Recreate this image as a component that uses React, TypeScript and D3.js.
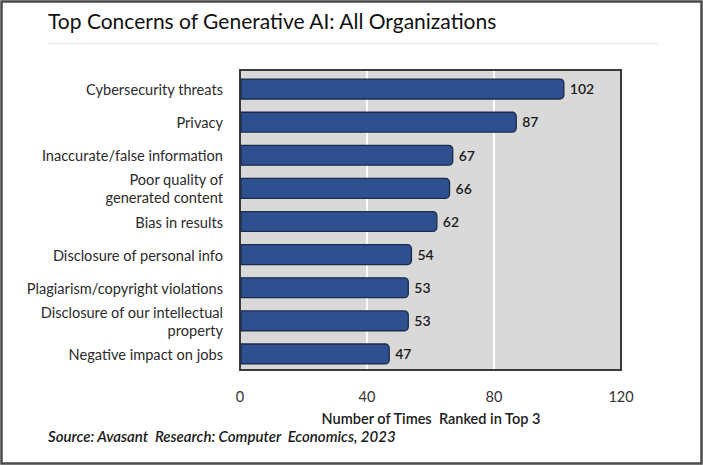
import React, { useEffect, useRef } from 'react';
import * as d3 from 'd3';

const categories: string[][] = [
  ['Cybersecurity threats'],
  ['Privacy'],
  ['Inaccurate/false information'],
  ['Poor quality of', 'generated content'],
  ['Bias in results'],
  ['Disclosure of personal info'],
  ['Plagiarism/copyright violations'],
  ['Disclosure of our intellectual', 'property'],
  ['Negative impact on jobs'],
];
const values = [102, 87, 67, 66, 62, 54, 53, 53, 47];
const xTicks = [0, 40, 80, 120];

const W = 703;
const H = 465;
const FONT = 'Lato, "Open Sans", sans-serif';

const App: React.FC = () => {
  const svgRef = useRef<SVGSVGElement>(null);

  useEffect(() => {
    if (!svgRef.current) return;
    const svg = d3.select(svgRef.current);
    svg.selectAll('*').remove();

    const plot = { left: 240, right: 621, top: 70, bottom: 370 };

    const x = d3.scaleLinear().domain([0, 120]).range([plot.left, plot.right]);
    const y = d3.scaleBand<number>()
      .domain(d3.range(values.length))
      .range([plot.top + 2.5, plot.bottom + 0.5])
      .paddingInner(0.4)
      .paddingOuter(0.2);

    // frame round the picture
    svg.append('rect')
      .attr('x', 1.5).attr('y', 1.5)
      .attr('width', W - 3).attr('height', H - 3)
      .attr('fill', '#fff')
      .attr('stroke', '#4a4a4a')
      .attr('stroke-width', 2.5);

    svg.append('text')
      .attr('x', 48).attr('y', 29)
      .attr('font-family', FONT)
      .attr('font-size', 21)
      .attr('fill', '#111')
      .text('Top Concerns of Generative AI: All Organizations');

    svg.append('line')
      .attr('x1', 48).attr('x2', 658)
      .attr('y1', 43.5).attr('y2', 43.5)
      .attr('stroke', '#ececec')
      .attr('stroke-width', 1.5);

    // plot background
    svg.append('rect')
      .attr('x', plot.left).attr('y', plot.top)
      .attr('width', plot.right - plot.left)
      .attr('height', plot.bottom - plot.top)
      .attr('fill', '#d9d9d9');

    svg.selectAll('line.grid')
      .data(xTicks.slice(1, -1))
      .enter()
      .append('line')
      .attr('class', 'grid')
      .attr('x1', d => x(d)).attr('x2', d => x(d))
      .attr('y1', plot.top).attr('y2', plot.bottom)
      .attr('stroke', '#fff')
      .attr('stroke-width', 2);

    svg.append('rect')
      .attr('x', plot.left).attr('y', plot.top)
      .attr('width', plot.right - plot.left)
      .attr('height', plot.bottom - plot.top)
      .attr('fill', 'none')
      .attr('stroke', '#3a3a3a')
      .attr('stroke-width', 2);

    // bars: flat at the axis, rounded at the end
    const r = 4;
    svg.selectAll('path.bar')
      .data(values)
      .enter()
      .append('path')
      .attr('class', 'bar')
      .attr('d', (d, i) => {
        const x0 = x(0) + 1;
        const x1 = x(d);
        const y0 = y(i)!;
        const h = y.bandwidth();
        const p = d3.path();
        p.moveTo(x0, y0);
        p.lineTo(x1 - r, y0);
        p.arcTo(x1, y0, x1, y0 + r, r);
        p.lineTo(x1, y0 + h - r);
        p.arcTo(x1, y0 + h, x1 - r, y0 + h, r);
        p.lineTo(x0, y0 + h);
        p.closePath();
        return p.toString();
      })
      .attr('fill', '#2e5090')
      .attr('stroke', '#1c2b48')
      .attr('stroke-width', 1.3);

    svg.selectAll('text.value')
      .data(values)
      .enter()
      .append('text')
      .attr('class', 'value')
      .attr('x', d => x(d) + 6)
      .attr('y', (d, i) => y(i)! + y.bandwidth() / 2)
      .attr('dy', '0.38em')
      .attr('font-family', FONT)
      .attr('font-size', 14)
      .attr('font-weight', 600)
      .attr('fill', '#1a1a1a')
      .text(d => d);

    // category labels, some on two lines
    const labels = svg.selectAll('text.cat')
      .data(categories)
      .enter()
      .append('text')
      .attr('class', 'cat')
      .attr('text-anchor', 'end')
      .attr('font-family', FONT)
      .attr('font-size', 14.6)
      .attr('fill', '#2b2b2b');
    labels.each(function (lines, i) {
      const cy = y(i)! + y.bandwidth() / 2 + 1;
      const t = d3.select(this);
      lines.forEach((line, k) => {
        t.append('tspan')
          .attr('x', 223)
          .attr('y', cy + (k - (lines.length - 1) / 2) * 18)
          .attr('dy', '0.35em')
          .text(line);
      });
    });

    svg.selectAll('text.tick')
      .data(xTicks)
      .enter()
      .append('text')
      .attr('class', 'tick')
      .attr('x', d => x(d))
      .attr('y', 397)
      .attr('dy', '0.35em')
      .attr('text-anchor', 'middle')
      .attr('font-family', FONT)
      .attr('font-size', 14.5)
      .attr('fill', '#333')
      .text(d => d);

    svg.append('text')
      .attr('x', 431).attr('y', 419)
      .attr('dy', '0.35em')
      .attr('text-anchor', 'middle')
      .attr('font-family', FONT)
      .attr('font-size', 14.5)
      .attr('font-weight', 600)
      .attr('fill', '#1a1a1a')
      .style('white-space', 'pre')
      .text('Number of Times  Ranked in Top 3');

    svg.append('text')
      .attr('x', 48).attr('y', 437)
      .attr('dy', '0.35em')
      .attr('font-family', FONT)
      .attr('font-size', 15)
      .attr('font-style', 'italic')
      .attr('font-weight', 600)
      .attr('fill', '#1a1a1a')
      .style('white-space', 'pre')
      .text('Source: Avasant  Research: Computer  Economics, 2023');
  }, []);

  return (
    <svg
      ref={svgRef}
      width={W}
      height={H}
      style={{ position: 'absolute', left: 0, top: 0 }}
    />
  );
};

export default App;
